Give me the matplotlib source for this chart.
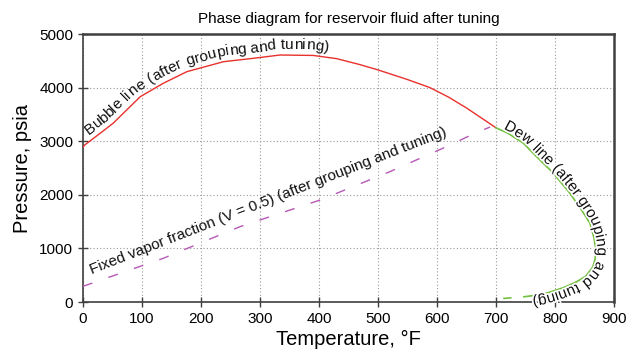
import numpy as np
import matplotlib
matplotlib.use('Agg')
import matplotlib.pyplot as plt
import matplotlib.patheffects as pe
from matplotlib.font_manager import FontProperties
from matplotlib.transforms import IdentityTransform

plt.rcParams['font.family'] = ['Liberation Sans', 'DejaVu Sans']

# bubble line (after grouping and tuning)
bubble_T = [0, 3, 29, 51, 74, 97, 136, 176, 238, 289, 334, 390, 430, 469, 500, 550, 588, 620, 650, 700]
bubble_P = [2890, 2930, 3147, 3334, 3582, 3830, 4080, 4297, 4483, 4547, 4608, 4600, 4540, 4430, 4330, 4150, 4000, 3820, 3620, 3250]

# dew line (after grouping and tuning)
dew_T = [700, 720, 746, 778, 795, 825, 843, 859, 866, 869, 868, 864, 852, 837, 815, 780, 760]
dew_P = [3250, 3150, 2966, 2610, 2430, 2033, 1750, 1474, 1200, 1000, 800, 650, 480, 379, 270, 144, 115]
dew_tail_T = [760, 744, 722, 703]
dew_tail_P = [115, 93, 75, 56]

# fixed vapor fraction V = 0.5
vapor_T = [0, 3, 136, 266, 402, 520, 616, 664, 690]
vapor_P = [290, 304, 815, 1405, 1903, 2431, 2897, 3147, 3265]

x_ticks = [0, 100, 200, 300, 400, 500, 600, 700, 800, 900]
y_ticks = [0, 1000, 2000, 3000, 4000, 5000]

red = '#e8312c'
green = '#72c040'
purple = '#b757b7'
spine_col = '#404040'
label_fs = 11


def text_on_curve(ax, renderer, xs, ys, s, start, offset, fs, halo=False):
    pts = ax.transData.transform(np.column_stack([xs, ys]))
    d = np.hypot(np.diff(pts[:, 0]), np.diff(pts[:, 1]))
    arc = np.concatenate([[0], np.cumsum(d)])
    prop = FontProperties(family=['Liberation Sans'], size=fs)
    wx = renderer.get_text_width_height_descent('x', prop, ismath=False)[0]
    W = [0.0]
    for i in range(1, len(s) + 1):
        W.append(renderer.get_text_width_height_descent(s[:i] + 'x', prop, ismath=False)[0] - wx)

    def pos(a):
        return np.array([np.interp(a, arc, pts[:, 0]), np.interp(a, arc, pts[:, 1])])

    for i, ch in enumerate(s):
        if ch == ' ':
            continue
        a = start + (W[i] + W[i + 1]) / 2
        p0 = pos(a - 10)
        p1 = pos(a + 10)
        ang = np.arctan2(p1[1] - p0[1], p1[0] - p0[0])
        p = pos(a) + offset * np.array([-np.sin(ang), np.cos(ang)])
        kw = {}
        if halo:
            kw['path_effects'] = [pe.withStroke(linewidth=2.5, foreground='white')]
        ax.text(p[0], p[1], ch, transform=IdentityTransform(), fontproperties=prop,
                rotation=np.degrees(ang), rotation_mode='anchor',
                ha='center', va='baseline', color='#111111', zorder=5, **kw)


fig = plt.figure(figsize=(6.27, 3.64), dpi=100)
ax = fig.add_axes([83 / 627, 1 - 302 / 364, 531 / 627, 268 / 364])

ax.plot(bubble_T, bubble_P, color=red, lw=1.0, zorder=3)
ax.plot(dew_T, dew_P, color=green, lw=1.2, zorder=3)
ax.plot(dew_tail_T, dew_tail_P, color=green, lw=1.2, dashes=(5, 7), zorder=3)
ax.plot(vapor_T, vapor_P, color=purple, lw=1.0, dashes=(7.2, 12.2), zorder=3)

ax.set_xlim(0, 900)
ax.set_ylim(0, 5000)
ax.set_xticks(x_ticks)
ax.set_yticks(y_ticks)
ax.grid(True, color='#999999', linestyle=(0, (1, 2)), lw=0.8)
ax.set_axisbelow(True)
ax.tick_params(direction='inout', length=7, width=1, color=spine_col, labelsize=11)
for sp in ax.spines.values():
    sp.set_color(spine_col)
    sp.set_linewidth(1.2)
ax.spines['top'].set_linewidth(1.8)
ax.spines['right'].set_linewidth(1.8)

ax.set_xlabel('Temperature, °F', fontsize=14.5, labelpad=3)
ax.set_ylabel('Pressure, psia', fontsize=14.5, labelpad=5)
ax.set_title('Phase diagram for reservoir fluid after tuning', fontsize=11, pad=8)

fig.canvas.draw()
renderer = fig.canvas.get_renderer()

text_on_curve(ax, renderer, bubble_T, bubble_P, 'Bubble line (after grouping and tuning)', 12, 6, label_fs)
text_on_curve(ax, renderer, dew_T + dew_tail_T[1:], dew_P + dew_tail_P[1:],
              'Dew line (after grouping and tuning)', 7, 2, label_fs, halo=True)

p0 = ax.transData.transform((vapor_T[1], vapor_P[1]))
p1 = ax.transData.transform((vapor_T[-2], vapor_P[-2]))
ang = np.degrees(np.arctan2(p1[1] - p0[1], p1[0] - p0[0]))
ax.text(15, 510, 'Fixed vapor fraction (V = 0.5) (after grouping and tuning)',
        fontsize=label_fs, rotation=ang, rotation_mode='anchor',
        ha='left', va='baseline', color='#111111', zorder=5)

fig.savefig('out.png', dpi=100)
